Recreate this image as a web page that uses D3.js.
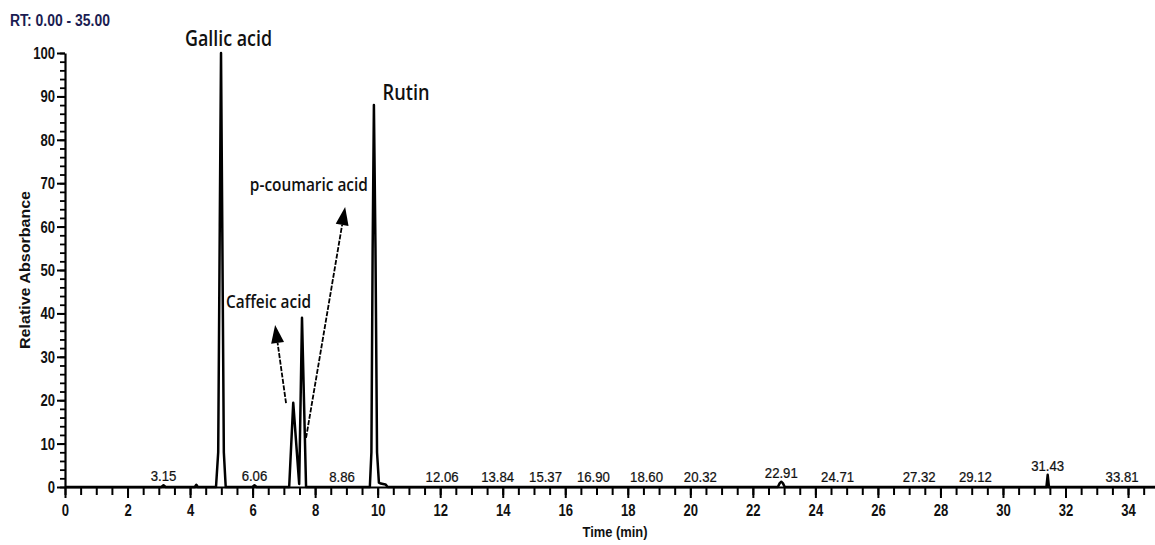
<!DOCTYPE html>
<html>
<head>
<meta charset="utf-8">
<script src="https://cdn.jsdelivr.net/npm/d3@7"></script>
<style>
  html, body { margin: 0; padding: 0; background: #fff; }
  svg { display: block; }
</style>
</head>
<body>
<svg id="chart" width="1155" height="545"></svg>
<script>
// ---- data ----
const rtTimes = [0, 3.08, 3.15, 3.22, 4.15, 4.2, 4.25,
  4.83, 4.9, 4.95, 4.99, 5.03, 5.08, 5.14,
  5.99, 6.06, 6.13,
  7.17, 7.3, 7.49, 7.58, 7.71,
  9.75, 9.8, 9.84, 9.88, 9.93, 9.98, 10.04, 10.1, 10.25, 10.32,
  22.8, 22.86, 22.91, 22.96, 23.02,
  31.39, 31.43, 31.47, 35];
const absorbance = [0, 0, 0.4, 0, 0, 0.5, 0,
  0, 8, 60, 100, 60, 8, 0,
  0, 0.4, 0,
  0, 19.4, 0.7, 39, 0,
  0, 8, 55, 88, 55, 8, 1, 0.8, 0.6, 0,
  0, 0.9, 1.2, 0.9, 0,
  0, 2.8, 0, 0];

const peakLabelTimes = [3.15, 6.06, 8.86, 12.06, 13.84, 15.37, 16.90, 18.60, 20.32, 22.91, 24.71, 27.32, 29.12, 31.43, 33.81];
const peakLabelHeights = [0.4, 0.4, 0.3, 0.3, 0.3, 0.3, 0.3, 0.3, 0.3, 1.2, 0.3, 0.3, 0.3, 2.8, 0.3];

const compoundNames = ["Gallic acid", "Rutin", "p-coumaric acid", "Caffeic acid"];
const compoundLabelX = [5.23, 10.91, 7.80, 6.51];     // centre, minutes
const compoundLabelY = [101.5, 89.2, 68.3, 41.3];     // baseline, % abs.
const compoundLabelSize = [21, 21, 18, 18];
const compoundLabelWidth = [87, 47, 118, 85];

// arrows: [fromTime, fromValue, toTime, toValue]
const arrowFromT = [7.07, 7.71];
const arrowFromV = [19.3, 11.3];
const arrowToT = [6.72, 8.96];
const arrowToV = [37.3, 64.5];

const xMajorTicks = d3.range(0, 35, 2);
const xMinorTicks = d3.range(0, 35.01, 0.5);
const yMajorTicks = d3.range(0, 101, 10);
const yMinorTicks = d3.range(0, 101, 2);

// ---- layout ----
const svg = d3.select("#chart");
const x = d3.scaleLinear().domain([0, 35]).range([65, 1159.3]);
const y = d3.scaleLinear().domain([0, 100]).range([487, 53]);

const tickFont = "'Liberation Sans',Arial,sans-serif";
const labelFont = "'Open Sans','Noto Sans',sans-serif";
const sx = 0.77;

// minor ticks x
svg.append("g").attr("transform", "translate(0,487)")
  .call(d3.axisBottom(x).tickValues(xMinorTicks).tickSize(8).tickFormat(""))
  .call(g => g.select(".domain").remove())
  .call(g => g.selectAll("line").attr("stroke", "#000").attr("stroke-width", 2));
// major ticks x
const gx = svg.append("g").attr("transform", "translate(0,487)")
  .call(d3.axisBottom(x).tickValues(xMajorTicks).tickSize(11).tickPadding(6).tickSizeOuter(0).tickFormat(d3.format("d")));
gx.select(".domain").attr("stroke", "#000").attr("stroke-width", 2.2);
gx.selectAll("line").attr("stroke", "#000").attr("stroke-width", 2);
gx.selectAll("text").attr("font-family", tickFont).attr("font-size", 17).attr("font-weight", "bold").attr("fill", "#111")
  .attr("transform", `scale(${sx},1)`);

// minor ticks y
svg.append("g").attr("transform", "translate(65,0)")
  .call(d3.axisLeft(y).tickValues(yMinorTicks).tickSize(5).tickFormat(""))
  .call(g => g.select(".domain").remove())
  .call(g => g.selectAll("line").attr("stroke", "#000").attr("stroke-width", 1.8));
const gy = svg.append("g").attr("transform", "translate(65,0)")
  .call(d3.axisLeft(y).tickValues(yMajorTicks).tickSize(8).tickPadding(2).tickSizeOuter(0).tickFormat(d3.format("d")));
gy.select(".domain").attr("stroke", "#000").attr("stroke-width", 2.2);
gy.selectAll("line").attr("stroke", "#000").attr("stroke-width", 2);
gy.selectAll("text").attr("font-family", tickFont).attr("font-size", 17).attr("font-weight", "bold").attr("fill", "#111")
  .attr("x", -10 / sx).attr("transform", `scale(${sx},1)`);

// trace
const line = d3.line().x((d, i) => x(rtTimes[i])).y((d, i) => y(absorbance[i]));
svg.append("path").datum(absorbance)
  .attr("d", line)
  .attr("fill", "none").attr("stroke", "#000").attr("stroke-width", 2.5)
  .attr("stroke-linejoin", "round");

// peak retention labels
const ps = 0.85;
svg.append("g").selectAll("text").data(peakLabelTimes).join("text")
  .attr("x", d => x(d) / ps)
  .attr("y", (d, i) => y(peakLabelHeights[i]) - 4)
  .attr("transform", `scale(${ps},1)`)
  .attr("text-anchor", "middle")
  .attr("font-family", tickFont).attr("font-size", 15.5).attr("fill", "#111")
  .attr("stroke", "#111").attr("stroke-width", 0.25)
  .text(d => d.toFixed(2));

// compound labels
svg.append("g").selectAll("text").data(compoundNames).join("text")
  .attr("x", (d, i) => x(compoundLabelX[i]))
  .attr("y", (d, i) => y(compoundLabelY[i]))
  .attr("text-anchor", "middle")
  .attr("font-family", labelFont).attr("font-weight", 600)
  .attr("font-size", (d, i) => compoundLabelSize[i])
  .attr("textLength", (d, i) => compoundLabelWidth[i])
  .attr("lengthAdjust", "spacingAndGlyphs")
  .attr("fill", "#111")
  .text(d => d);

// arrows
arrowFromT.forEach((t, i) => {
  const x1 = x(t), y1 = y(arrowFromV[i]), x2 = x(arrowToT[i]), y2 = y(arrowToV[i]);
  const ang = Math.atan2(y2 - y1, x2 - x1);
  const L = 18, W = 6.5;
  const bx = x2 - L * Math.cos(ang), by = y2 - L * Math.sin(ang);
  svg.append("line").attr("x1", x1).attr("y1", y1).attr("x2", bx).attr("y2", by)
    .attr("stroke", "#000").attr("stroke-width", 1.8).attr("stroke-dasharray", "5,1.5");
  const px = -Math.sin(ang), py = Math.cos(ang);
  svg.append("polygon")
    .attr("points", [[x2, y2], [bx + W * px, by + W * py], [bx - W * px, by - W * py]].map(p => p.join(",")).join(" "))
    .attr("fill", "#000");
});

// axis titles
svg.append("text").attr("x", 615).attr("y", 537).attr("text-anchor", "middle")
  .attr("font-family", tickFont).attr("font-size", 15).attr("font-weight", "bold")
  .attr("textLength", 65).attr("lengthAdjust", "spacingAndGlyphs").attr("fill", "#111")
  .text("Time (min)");
svg.append("text").attr("transform", "translate(30,270) rotate(-90)").attr("text-anchor", "middle")
  .attr("font-family", tickFont).attr("font-size", 15).attr("font-weight", "bold")
  .attr("textLength", 158).attr("lengthAdjust", "spacingAndGlyphs").attr("fill", "#111")
  .text("Relative Absorbance");

// RT range title
svg.append("text").attr("x", 10).attr("y", 26)
  .attr("font-family", tickFont).attr("font-size", 16).attr("font-weight", "bold")
  .attr("textLength", 100).attr("lengthAdjust", "spacingAndGlyphs").attr("fill", "#1b1d52")
  .text("RT: 0.00 - 35.00");
</script>
</body>
</html>
